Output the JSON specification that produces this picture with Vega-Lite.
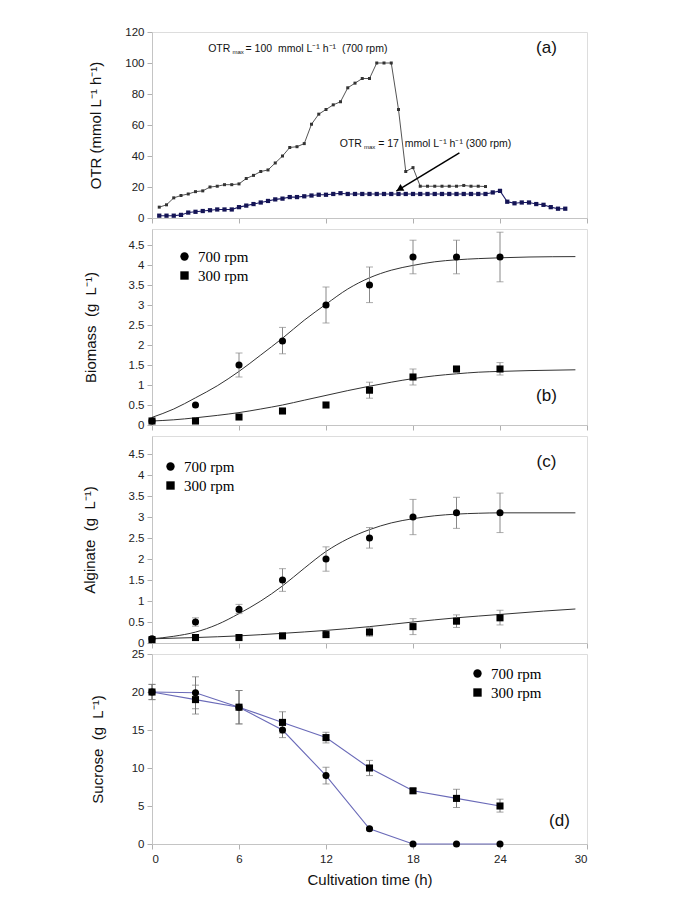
{
  "$schema": "https://vega.github.io/schema/vega-lite/v6.json",
  "background": "white",
  "padding": {"left": 81, "top": 25, "right": 5, "bottom": 5},
  "bounds": "flush",
  "spacing": 11,
  "config": {
    "font": "Liberation Sans",
    "view": {"stroke": "#dddddd"},
    "axis": {"grid": false, "domainColor": "#c4c4c4", "tickColor": "#b0b0b0", "tickSize": 5, "labelColor": "#222222", "labelFontSize": 11.5, "labelFont": "Liberation Sans", "titleFont": "Liberation Sans", "titleFontSize": 15, "titleFontWeight": "normal", "titleColor": "#111111", "labelPadding": 3},
    "legend": {"labelFont": "Liberation Serif", "labelFontSize": 15, "labelColor": "#000000", "symbolSize": 70, "rowPadding": 3, "padding": 0, "labelOffset": 6}
  },
  "resolve": {"scale": {"shape": "independent"}, "legend": {"shape": "independent"}},
  "datasets": {
    "otr": [
      {"t": 0.5, "v": 7, "rpm": 700}, {"t": 1, "v": 8.5, "rpm": 700}, {"t": 1.5, "v": 13, "rpm": 700}, {"t": 2, "v": 14.5, "rpm": 700}, {"t": 2.5, "v": 15.5, "rpm": 700}, {"t": 3, "v": 17, "rpm": 700}, {"t": 3.5, "v": 17.5, "rpm": 700}, {"t": 4, "v": 20, "rpm": 700}, {"t": 4.5, "v": 20.5, "rpm": 700}, {"t": 5, "v": 21.5, "rpm": 700},
      {"t": 5.5, "v": 21.5, "rpm": 700}, {"t": 6, "v": 22, "rpm": 700}, {"t": 6.5, "v": 25.5, "rpm": 700}, {"t": 7, "v": 27.5, "rpm": 700}, {"t": 7.5, "v": 30, "rpm": 700}, {"t": 8, "v": 31, "rpm": 700}, {"t": 8.5, "v": 35.5, "rpm": 700}, {"t": 9, "v": 40, "rpm": 700}, {"t": 9.5, "v": 45.5, "rpm": 700}, {"t": 10, "v": 46, "rpm": 700},
      {"t": 10.5, "v": 48, "rpm": 700}, {"t": 11, "v": 60.5, "rpm": 700}, {"t": 11.5, "v": 67, "rpm": 700}, {"t": 12, "v": 70, "rpm": 700}, {"t": 12.5, "v": 73, "rpm": 700}, {"t": 13, "v": 75, "rpm": 700}, {"t": 13.5, "v": 84, "rpm": 700}, {"t": 14, "v": 87, "rpm": 700}, {"t": 14.5, "v": 90, "rpm": 700}, {"t": 15, "v": 90, "rpm": 700},
      {"t": 15.5, "v": 100, "rpm": 700}, {"t": 16, "v": 100, "rpm": 700}, {"t": 16.5, "v": 100, "rpm": 700}, {"t": 17, "v": 70, "rpm": 700}, {"t": 17.5, "v": 30, "rpm": 700}, {"t": 18, "v": 32.5, "rpm": 700}, {"t": 18.5, "v": 20.5, "rpm": 700}, {"t": 19, "v": 20.5, "rpm": 700}, {"t": 19.5, "v": 20.5, "rpm": 700}, {"t": 20, "v": 20.5, "rpm": 700},
      {"t": 20.5, "v": 20.5, "rpm": 700}, {"t": 21, "v": 20.5, "rpm": 700}, {"t": 21.5, "v": 21, "rpm": 700}, {"t": 22, "v": 20.5, "rpm": 700}, {"t": 22.5, "v": 20.5, "rpm": 700}, {"t": 23, "v": 20.3, "rpm": 700},
      {"t": 0.5, "v": 1.5, "rpm": 300}, {"t": 1, "v": 1.5, "rpm": 300}, {"t": 1.5, "v": 1.5, "rpm": 300}, {"t": 2, "v": 2, "rpm": 300}, {"t": 2.5, "v": 3.5, "rpm": 300}, {"t": 3, "v": 4, "rpm": 300}, {"t": 3.5, "v": 4.5, "rpm": 300}, {"t": 4, "v": 5, "rpm": 300}, {"t": 4.5, "v": 5.5, "rpm": 300}, {"t": 5, "v": 5.5, "rpm": 300},
      {"t": 5.5, "v": 5.5, "rpm": 300}, {"t": 6, "v": 7, "rpm": 300}, {"t": 6.5, "v": 8, "rpm": 300}, {"t": 7, "v": 9, "rpm": 300}, {"t": 7.5, "v": 10, "rpm": 300}, {"t": 8, "v": 11, "rpm": 300}, {"t": 8.5, "v": 12, "rpm": 300}, {"t": 9, "v": 12.5, "rpm": 300}, {"t": 9.5, "v": 13.5, "rpm": 300}, {"t": 10, "v": 13.5, "rpm": 300},
      {"t": 10.5, "v": 14, "rpm": 300}, {"t": 11, "v": 14.5, "rpm": 300}, {"t": 11.5, "v": 15, "rpm": 300}, {"t": 12, "v": 15, "rpm": 300}, {"t": 12.5, "v": 15.5, "rpm": 300}, {"t": 13, "v": 16, "rpm": 300}, {"t": 13.5, "v": 15.5, "rpm": 300}, {"t": 14, "v": 15.5, "rpm": 300}, {"t": 14.5, "v": 15.5, "rpm": 300}, {"t": 15, "v": 15.5, "rpm": 300},
      {"t": 15.5, "v": 15.5, "rpm": 300}, {"t": 16, "v": 15.5, "rpm": 300}, {"t": 16.5, "v": 15.5, "rpm": 300}, {"t": 17, "v": 15.5, "rpm": 300}, {"t": 17.5, "v": 15.5, "rpm": 300}, {"t": 18, "v": 15.5, "rpm": 300}, {"t": 18.5, "v": 15.5, "rpm": 300}, {"t": 19, "v": 15.5, "rpm": 300}, {"t": 19.5, "v": 15.5, "rpm": 300}, {"t": 20, "v": 15.5, "rpm": 300},
      {"t": 20.5, "v": 15.5, "rpm": 300}, {"t": 21, "v": 15.5, "rpm": 300}, {"t": 21.5, "v": 15.5, "rpm": 300}, {"t": 22, "v": 15.5, "rpm": 300}, {"t": 22.5, "v": 15.5, "rpm": 300}, {"t": 23, "v": 15.5, "rpm": 300}, {"t": 23.5, "v": 16.5, "rpm": 300}, {"t": 24, "v": 17.5, "rpm": 300}, {"t": 24.5, "v": 10.5, "rpm": 300}, {"t": 25, "v": 9.5, "rpm": 300},
      {"t": 25.5, "v": 10, "rpm": 300}, {"t": 26, "v": 10, "rpm": 300}, {"t": 26.5, "v": 9, "rpm": 300}, {"t": 27, "v": 8.5, "rpm": 300}, {"t": 27.5, "v": 7, "rpm": 300}, {"t": 28, "v": 6, "rpm": 300}, {"t": 28.5, "v": 6, "rpm": 300}
    ],
    "annot": [
      {"kind": "main", "t": 5.4, "v": 109, "label": "OTR"},
      {"kind": "sub", "t": 5.55, "v": 106.8, "label": "max"},
      {"kind": "rest", "t": 6.45, "v": 109, "label": "= 100\u00a0 mmol L⁻¹ h⁻¹\u00a0 (700 rpm)"},
      {"kind": "main", "t": 14.48, "v": 47.7, "label": "OTR"},
      {"kind": "sub", "t": 14.62, "v": 45.5, "label": "max"},
      {"kind": "rest", "t": 15.6, "v": 47.7, "label": "= 17\u00a0 mmol L⁻¹ h⁻¹ (300 rpm)"}
    ],
    "arrow": [{"t": 21.2, "v": 42, "t2": 16.85, "v2": 17.4}],
    "arrowHead": [{"t": 17.07, "v": 18.7}],
    "labels": [
      {"panel": "a", "t": 27.2, "v": 109.7, "label": "(a)"},
      {"panel": "b", "t": 27.2, "v": 0.72, "label": "(b)"},
      {"panel": "c", "t": 27.2, "v": 4.3, "label": "(c)"},
      {"panel": "d", "t": 28.1, "v": 3.0, "label": "(d)"}
    ],
    "biomass": [
      {"t": 0, "v": 0.1, "rpm": "700 rpm"}, {"t": 3, "v": 0.5, "rpm": "700 rpm"},
      {"t": 6, "v": 1.5, "lo": 1.2, "hi": 1.8, "rpm": "700 rpm"}, {"t": 9, "v": 2.1, "lo": 1.78, "hi": 2.44, "rpm": "700 rpm"},
      {"t": 12, "v": 3.0, "lo": 2.55, "hi": 3.45, "rpm": "700 rpm"}, {"t": 15, "v": 3.5, "lo": 3.06, "hi": 3.95, "rpm": "700 rpm"},
      {"t": 18, "v": 4.2, "lo": 3.78, "hi": 4.62, "rpm": "700 rpm"}, {"t": 21, "v": 4.2, "lo": 3.78, "hi": 4.62, "rpm": "700 rpm"},
      {"t": 24, "v": 4.2, "lo": 3.58, "hi": 4.82, "rpm": "700 rpm"},
      {"t": 0, "v": 0.1, "rpm": "300 rpm"}, {"t": 3, "v": 0.1, "rpm": "300 rpm"}, {"t": 6, "v": 0.2, "rpm": "300 rpm"},
      {"t": 9, "v": 0.35, "rpm": "300 rpm"}, {"t": 12, "v": 0.5, "rpm": "300 rpm"},
      {"t": 15, "v": 0.87, "lo": 0.67, "hi": 1.07, "rpm": "300 rpm"}, {"t": 18, "v": 1.2, "lo": 1.0, "hi": 1.4, "rpm": "300 rpm"},
      {"t": 21, "v": 1.4, "lo": 1.34, "hi": 1.46, "rpm": "300 rpm"}, {"t": 24, "v": 1.4, "lo": 1.25, "hi": 1.56, "rpm": "300 rpm"}
    ],
    "biomassFit": [
      {"t": 0, "v": 0.19, "rpm": "700 rpm"}, {"t": 1.5, "v": 0.4, "rpm": "700 rpm"}, {"t": 3, "v": 0.68, "rpm": "700 rpm"}, {"t": 4.5, "v": 0.98, "rpm": "700 rpm"},
      {"t": 6, "v": 1.34, "rpm": "700 rpm"}, {"t": 7.5, "v": 1.75, "rpm": "700 rpm"}, {"t": 9, "v": 2.17, "rpm": "700 rpm"}, {"t": 10.5, "v": 2.62, "rpm": "700 rpm"},
      {"t": 12, "v": 3.02, "rpm": "700 rpm"}, {"t": 13.5, "v": 3.4, "rpm": "700 rpm"}, {"t": 15, "v": 3.68, "rpm": "700 rpm"}, {"t": 16.5, "v": 3.87, "rpm": "700 rpm"},
      {"t": 18, "v": 3.99, "rpm": "700 rpm"}, {"t": 19.5, "v": 4.08, "rpm": "700 rpm"}, {"t": 21, "v": 4.13, "rpm": "700 rpm"}, {"t": 22.5, "v": 4.16, "rpm": "700 rpm"},
      {"t": 24, "v": 4.18, "rpm": "700 rpm"}, {"t": 26, "v": 4.2, "rpm": "700 rpm"}, {"t": 29.2, "v": 4.21, "rpm": "700 rpm"},
      {"t": 0, "v": 0.1, "rpm": "300 rpm"}, {"t": 1.5, "v": 0.13, "rpm": "300 rpm"}, {"t": 3, "v": 0.18, "rpm": "300 rpm"}, {"t": 4.5, "v": 0.24, "rpm": "300 rpm"},
      {"t": 6, "v": 0.31, "rpm": "300 rpm"}, {"t": 7.5, "v": 0.4, "rpm": "300 rpm"}, {"t": 9, "v": 0.5, "rpm": "300 rpm"}, {"t": 10.5, "v": 0.62, "rpm": "300 rpm"},
      {"t": 12, "v": 0.74, "rpm": "300 rpm"}, {"t": 13.5, "v": 0.86, "rpm": "300 rpm"}, {"t": 15, "v": 0.97, "rpm": "300 rpm"}, {"t": 16.5, "v": 1.07, "rpm": "300 rpm"},
      {"t": 18, "v": 1.16, "rpm": "300 rpm"}, {"t": 19.5, "v": 1.23, "rpm": "300 rpm"}, {"t": 21, "v": 1.28, "rpm": "300 rpm"}, {"t": 22.5, "v": 1.32, "rpm": "300 rpm"},
      {"t": 24, "v": 1.34, "rpm": "300 rpm"}, {"t": 26, "v": 1.36, "rpm": "300 rpm"}, {"t": 29.2, "v": 1.38, "rpm": "300 rpm"}
    ],
    "alginate": [
      {"t": 0, "v": 0.1, "rpm": "700 rpm"}, {"t": 3, "v": 0.5, "lo": 0.4, "hi": 0.6, "rpm": "700 rpm"},
      {"t": 6, "v": 0.8, "lo": 0.7, "hi": 0.92, "rpm": "700 rpm"}, {"t": 9, "v": 1.5, "lo": 1.23, "hi": 1.77, "rpm": "700 rpm"},
      {"t": 12, "v": 2.0, "lo": 1.71, "hi": 2.29, "rpm": "700 rpm"}, {"t": 15, "v": 2.5, "lo": 2.26, "hi": 2.75, "rpm": "700 rpm"},
      {"t": 18, "v": 3.0, "lo": 2.58, "hi": 3.42, "rpm": "700 rpm"}, {"t": 21, "v": 3.1, "lo": 2.73, "hi": 3.47, "rpm": "700 rpm"},
      {"t": 24, "v": 3.1, "lo": 2.63, "hi": 3.57, "rpm": "700 rpm"},
      {"t": 0, "v": 0.08, "rpm": "300 rpm"}, {"t": 3, "v": 0.13, "rpm": "300 rpm"}, {"t": 6, "v": 0.13, "rpm": "300 rpm"},
      {"t": 9, "v": 0.17, "rpm": "300 rpm"}, {"t": 12, "v": 0.2, "lo": 0.17, "hi": 0.23, "rpm": "300 rpm"},
      {"t": 15, "v": 0.26, "lo": 0.16, "hi": 0.36, "rpm": "300 rpm"}, {"t": 18, "v": 0.39, "lo": 0.2, "hi": 0.58, "rpm": "300 rpm"},
      {"t": 21, "v": 0.52, "lo": 0.37, "hi": 0.67, "rpm": "300 rpm"}, {"t": 24, "v": 0.6, "lo": 0.43, "hi": 0.78, "rpm": "300 rpm"}
    ],
    "alginateFit": [
      {"t": 0, "v": 0.1, "rpm": "700 rpm"}, {"t": 1.5, "v": 0.16, "rpm": "700 rpm"}, {"t": 3, "v": 0.26, "rpm": "700 rpm"}, {"t": 4.5, "v": 0.44, "rpm": "700 rpm"},
      {"t": 6, "v": 0.7, "rpm": "700 rpm"}, {"t": 7.5, "v": 1.0, "rpm": "700 rpm"}, {"t": 9, "v": 1.36, "rpm": "700 rpm"}, {"t": 10.5, "v": 1.78, "rpm": "700 rpm"},
      {"t": 12, "v": 2.18, "rpm": "700 rpm"}, {"t": 13.5, "v": 2.48, "rpm": "700 rpm"}, {"t": 15, "v": 2.7, "rpm": "700 rpm"}, {"t": 16.5, "v": 2.86, "rpm": "700 rpm"},
      {"t": 18, "v": 2.96, "rpm": "700 rpm"}, {"t": 19.5, "v": 3.03, "rpm": "700 rpm"}, {"t": 21, "v": 3.07, "rpm": "700 rpm"}, {"t": 22.5, "v": 3.09, "rpm": "700 rpm"},
      {"t": 24, "v": 3.1, "rpm": "700 rpm"}, {"t": 26, "v": 3.1, "rpm": "700 rpm"}, {"t": 29.2, "v": 3.1, "rpm": "700 rpm"},
      {"t": 0, "v": 0.1, "rpm": "300 rpm"}, {"t": 3, "v": 0.13, "rpm": "300 rpm"}, {"t": 6, "v": 0.17, "rpm": "300 rpm"}, {"t": 9, "v": 0.23, "rpm": "300 rpm"},
      {"t": 12, "v": 0.3, "rpm": "300 rpm"}, {"t": 15, "v": 0.39, "rpm": "300 rpm"}, {"t": 18, "v": 0.5, "rpm": "300 rpm"}, {"t": 21, "v": 0.6, "rpm": "300 rpm"},
      {"t": 24, "v": 0.68, "rpm": "300 rpm"}, {"t": 27, "v": 0.76, "rpm": "300 rpm"}, {"t": 29.2, "v": 0.81, "rpm": "300 rpm"}
    ],
    "sucrose": [
      {"t": 0, "v": 20, "lo": 19, "hi": 21, "rpm": "700 rpm"}, {"t": 3, "v": 19.9, "lo": 17.8, "hi": 22, "rpm": "700 rpm"},
      {"t": 6, "v": 18, "lo": 15.8, "hi": 20.2, "rpm": "700 rpm"}, {"t": 9, "v": 15, "lo": 14, "hi": 16, "rpm": "700 rpm"},
      {"t": 12, "v": 9, "lo": 7.9, "hi": 10.1, "rpm": "700 rpm"}, {"t": 15, "v": 2, "lo": 1.8, "hi": 2.2, "rpm": "700 rpm"},
      {"t": 18, "v": 0, "rpm": "700 rpm"}, {"t": 21, "v": 0, "rpm": "700 rpm"}, {"t": 24, "v": 0, "rpm": "700 rpm"},
      {"t": 0, "v": 20, "lo": 19, "hi": 21, "rpm": "300 rpm"}, {"t": 3, "v": 19, "lo": 17.1, "hi": 20.9, "rpm": "300 rpm"},
      {"t": 6, "v": 18, "lo": 15.8, "hi": 20.2, "rpm": "300 rpm"}, {"t": 9, "v": 16, "lo": 14.6, "hi": 17.4, "rpm": "300 rpm"},
      {"t": 12, "v": 14, "lo": 13.3, "hi": 14.7, "rpm": "300 rpm"}, {"t": 15, "v": 10, "lo": 9, "hi": 11, "rpm": "300 rpm"},
      {"t": 18, "v": 7, "lo": 6.7, "hi": 7.3, "rpm": "300 rpm"}, {"t": 21, "v": 6, "lo": 4.8, "hi": 7.2, "rpm": "300 rpm"},
      {"t": 24, "v": 5, "lo": 4.2, "hi": 5.9, "rpm": "300 rpm"}
    ]
  },
  "vconcat": [
    {
      "width": 435, "height": 186,
      "encoding": {
        "x": {"field": "t", "type": "quantitative", "scale": {"domain": [0, 30], "nice": false}, "axis": {"values": [0, 6, 12, 18, 24, 30], "labels": false, "title": null}},
        "y": {"field": "v", "type": "quantitative", "scale": {"domain": [0, 120], "nice": false}, "axis": {"values": [0, 20, 40, 60, 80, 100, 120], "title": "OTR (mmol L⁻¹ h⁻¹)", "titlePadding": 21}}
      },
      "layer": [
        {"data": {"name": "otr"}, "transform": [{"filter": "datum.rpm == 700"}], "mark": {"type": "line", "color": "#555555", "strokeWidth": 1}},
        {"data": {"name": "otr"}, "transform": [{"filter": "datum.rpm == 700"}], "mark": {"type": "point", "shape": "square", "filled": true, "color": "#333333", "size": 9, "opacity": 1}},
        {"data": {"name": "otr"}, "transform": [{"filter": "datum.rpm == 300"}], "mark": {"type": "line", "color": "#1b1b66", "strokeWidth": 1.1}},
        {"data": {"name": "otr"}, "transform": [{"filter": "datum.rpm == 300"}], "mark": {"type": "point", "shape": "square", "filled": true, "color": "#141455", "size": 18, "opacity": 1}},
        {"data": {"name": "arrow"}, "mark": {"type": "rule", "color": "#000000", "strokeWidth": 1.5}, "encoding": {"x2": {"field": "t2"}, "y2": {"field": "v2"}}},
        {"data": {"name": "arrowHead"}, "mark": {"type": "point", "shape": "triangle-up", "filled": true, "color": "#000000", "size": 60, "angle": 240, "opacity": 1}},
        {"data": {"name": "annot"}, "transform": [{"filter": "datum.kind == 'main'"}], "mark": {"type": "text", "align": "right", "baseline": "middle", "fontSize": 10.5, "color": "#111111"}, "encoding": {"text": {"field": "label"}}},
        {"data": {"name": "annot"}, "transform": [{"filter": "datum.kind == 'sub'"}], "mark": {"type": "text", "align": "left", "baseline": "middle", "fontSize": 6, "color": "#111111"}, "encoding": {"text": {"field": "label"}}},
        {"data": {"name": "annot"}, "transform": [{"filter": "datum.kind == 'rest'"}], "mark": {"type": "text", "align": "left", "baseline": "middle", "fontSize": 10.5, "color": "#111111"}, "encoding": {"text": {"field": "label"}}},
        {"data": {"name": "labels"}, "transform": [{"filter": "datum.panel == 'a'"}], "mark": {"type": "text", "fontSize": 17, "color": "#111111", "baseline": "middle"}, "encoding": {"text": {"field": "label"}}}
      ]
    },
    {
      "width": 435, "height": 196,
      "encoding": {
        "x": {"field": "t", "type": "quantitative", "scale": {"domain": [0, 30], "nice": false}, "axis": {"values": [0, 6, 12, 18, 24, 30], "labels": false, "title": null}},
        "y": {"field": "v", "type": "quantitative", "scale": {"domain": [0, 4.9], "nice": false}, "axis": {"values": [0, 0.5, 1, 1.5, 2, 2.5, 3, 3.5, 4, 4.5], "format": "~g", "title": "Biomass\u00a0 (g\u00a0 L⁻¹)", "titlePadding": 30}}
      },
      "layer": [
        {"data": {"name": "biomassFit"}, "mark": {"type": "line", "color": "#333333", "strokeWidth": 1, "interpolate": "monotone"}, "encoding": {"detail": {"field": "rpm"}}},
        {"data": {"name": "biomass"}, "mark": {"type": "rule", "color": "#888888"}, "encoding": {"y": {"field": "lo", "type": "quantitative", "scale": {"domain": [0, 4.9], "nice": false}, "title": "Biomass\u00a0 (g\u00a0 L⁻¹)"}, "y2": {"field": "hi"}}},
        {"data": {"name": "biomass"}, "mark": {"type": "tick", "orient": "horizontal", "size": 7, "thickness": 1, "color": "#888888"}, "encoding": {"y": {"field": "lo", "type": "quantitative", "scale": {"domain": [0, 4.9], "nice": false}, "title": "Biomass\u00a0 (g\u00a0 L⁻¹)"}}},
        {"data": {"name": "biomass"}, "mark": {"type": "tick", "orient": "horizontal", "size": 7, "thickness": 1, "color": "#888888"}, "encoding": {"y": {"field": "hi", "type": "quantitative", "scale": {"domain": [0, 4.9], "nice": false}, "title": "Biomass\u00a0 (g\u00a0 L⁻¹)"}}},
        {"data": {"name": "biomass"}, "mark": {"type": "point", "filled": true, "color": "#000000", "opacity": 1, "size": 50},
         "encoding": {
           "shape": {"field": "rpm", "type": "nominal", "scale": {"domain": ["700 rpm", "300 rpm"], "range": ["circle", "square"]}, "legend": {"orient": "none", "legendX": 25, "legendY": 20, "title": null}}
         }},
        {"data": {"name": "labels"}, "transform": [{"filter": "datum.panel == 'b'"}], "mark": {"type": "text", "fontSize": 17, "color": "#111111", "baseline": "middle"}, "encoding": {"text": {"field": "label"}}}
      ]
    },
    {
      "width": 435, "height": 207,
      "encoding": {
        "x": {"field": "t", "type": "quantitative", "scale": {"domain": [0, 30], "nice": false}, "axis": {"values": [0, 6, 12, 18, 24, 30], "labels": false, "title": null}},
        "y": {"field": "v", "type": "quantitative", "scale": {"domain": [0, 4.93], "nice": false}, "axis": {"values": [0, 0.5, 1, 1.5, 2, 2.5, 3, 3.5, 4, 4.5], "format": "~g", "title": "Alginate\u00a0 (g\u00a0 L⁻¹)", "titlePadding": 31}}
      },
      "layer": [
        {"data": {"name": "alginateFit"}, "mark": {"type": "line", "color": "#333333", "strokeWidth": 1, "interpolate": "monotone"}, "encoding": {"detail": {"field": "rpm"}}},
        {"data": {"name": "alginate"}, "mark": {"type": "rule", "color": "#888888"}, "encoding": {"y": {"field": "lo", "type": "quantitative", "scale": {"domain": [0, 4.93], "nice": false}, "title": "Alginate\u00a0 (g\u00a0 L⁻¹)"}, "y2": {"field": "hi"}}},
        {"data": {"name": "alginate"}, "mark": {"type": "tick", "orient": "horizontal", "size": 7, "thickness": 1, "color": "#888888"}, "encoding": {"y": {"field": "lo", "type": "quantitative", "scale": {"domain": [0, 4.93], "nice": false}, "title": "Alginate\u00a0 (g\u00a0 L⁻¹)"}}},
        {"data": {"name": "alginate"}, "mark": {"type": "tick", "orient": "horizontal", "size": 7, "thickness": 1, "color": "#888888"}, "encoding": {"y": {"field": "hi", "type": "quantitative", "scale": {"domain": [0, 4.93], "nice": false}, "title": "Alginate\u00a0 (g\u00a0 L⁻¹)"}}},
        {"data": {"name": "alginate"}, "mark": {"type": "point", "filled": true, "color": "#000000", "opacity": 1, "size": 50},
         "encoding": {
           "shape": {"field": "rpm", "type": "nominal", "scale": {"domain": ["700 rpm", "300 rpm"], "range": ["circle", "square"]}, "legend": {"orient": "none", "legendX": 11, "legendY": 23, "title": null}}
         }},
        {"data": {"name": "labels"}, "transform": [{"filter": "datum.panel == 'c'"}], "mark": {"type": "text", "fontSize": 17, "color": "#111111", "baseline": "middle"}, "encoding": {"text": {"field": "label"}}}
      ]
    },
    {
      "width": 435, "height": 190,
      "encoding": {
        "x": {"field": "t", "type": "quantitative", "scale": {"domain": [0, 30], "nice": false}, "axis": {"values": [0, 6, 12, 18, 24, 30], "title": "Cultivation time (h)", "labelPadding": 4, "titlePadding": 8}},
        "y": {"field": "v", "type": "quantitative", "scale": {"domain": [0, 25], "nice": false}, "axis": {"values": [0, 5, 10, 15, 20, 25], "title": "Sucrose\u00a0 (g\u00a0 L⁻¹)", "titlePadding": 26}}
      },
      "layer": [
        {"data": {"name": "sucrose"}, "mark": {"type": "line", "color": "#6a6ab8", "strokeWidth": 1.1}, "encoding": {"detail": {"field": "rpm"}}},
        {"data": {"name": "sucrose"}, "mark": {"type": "rule", "color": "#777777"}, "encoding": {"y": {"field": "lo", "type": "quantitative", "scale": {"domain": [0, 25], "nice": false}, "title": "Sucrose\u00a0 (g\u00a0 L⁻¹)"}, "y2": {"field": "hi"}}},
        {"data": {"name": "sucrose"}, "mark": {"type": "tick", "orient": "horizontal", "size": 7, "thickness": 1, "color": "#777777"}, "encoding": {"y": {"field": "lo", "type": "quantitative", "scale": {"domain": [0, 25], "nice": false}, "title": "Sucrose\u00a0 (g\u00a0 L⁻¹)"}}},
        {"data": {"name": "sucrose"}, "mark": {"type": "tick", "orient": "horizontal", "size": 7, "thickness": 1, "color": "#777777"}, "encoding": {"y": {"field": "hi", "type": "quantitative", "scale": {"domain": [0, 25], "nice": false}, "title": "Sucrose\u00a0 (g\u00a0 L⁻¹)"}}},
        {"data": {"name": "sucrose"}, "mark": {"type": "point", "filled": true, "color": "#000000", "opacity": 1, "size": 50},
         "encoding": {
           "shape": {"field": "rpm", "type": "nominal", "scale": {"domain": ["700 rpm", "300 rpm"], "range": ["circle", "square"]}, "legend": {"orient": "none", "legendX": 318, "legendY": 12, "title": null}}
         }},
        {"data": {"name": "labels"}, "transform": [{"filter": "datum.panel == 'd'"}], "mark": {"type": "text", "fontSize": 17, "color": "#111111", "baseline": "middle"}, "encoding": {"text": {"field": "label"}}}
      ]
    }
  ]
}
